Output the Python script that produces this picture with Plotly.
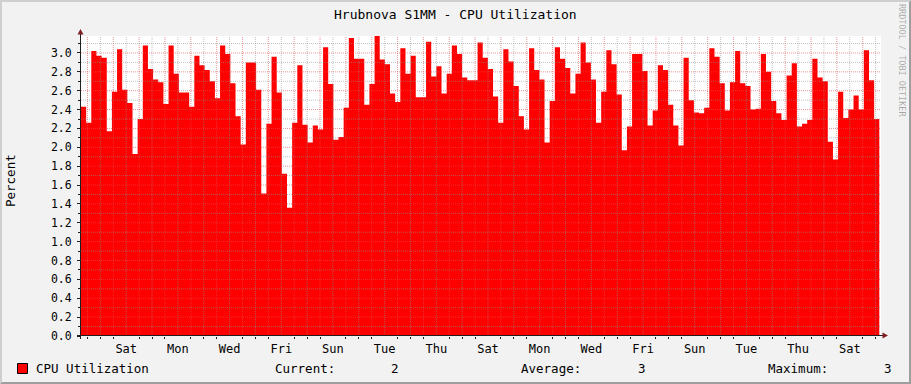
import numpy as np
import pandas as pd
import plotly.graph_objects as go

# ---------------- data ----------------
title_text = "Hrubnova S1MM - CPU Utilization"
y_title = "Percent"
series_name = "CPU Utilization"
watermark = "RRDTOOL / TOBI OETIKER"

start_time = "2024-02-29 18:00"      # Thursday evening
step_minutes = 287                   # one consolidated sample
axis_span_hours = 743
first_label_time = "2024-03-02 12:00"  # Saturday (labels every 2 days at noon)
first_grid_time = "2024-03-01 00:00"

cpu = [
    2.43, 2.26, 3.02, 2.97, 2.95, 2.17, 2.59, 3.04, 2.61, 2.47,
    1.93, 2.30, 3.08, 2.83, 2.72, 2.69, 2.46, 3.08, 2.78, 2.58,
    2.58, 2.43, 2.97, 2.87, 2.82, 2.70, 2.52, 3.08, 2.99, 2.68,
    2.33, 2.03, 2.90, 2.90, 2.61, 1.51, 2.25, 2.96, 2.58, 1.72,
    1.36, 2.26, 2.87, 2.24, 2.05, 2.23, 2.19, 3.06, 2.67, 2.08,
    2.11, 2.42, 3.16, 2.94, 2.94, 2.45, 2.67, 3.18, 2.93, 2.88,
    2.57, 2.48, 3.05, 2.78, 2.97, 2.53, 2.53, 3.12, 2.75, 2.86,
    2.57, 2.78, 3.08, 2.99, 2.74, 2.71, 2.71, 3.11, 2.95, 2.83,
    2.54, 2.26, 3.04, 2.91, 2.65, 2.33, 2.19, 3.05, 2.82, 2.72,
    2.05, 2.49, 3.06, 2.94, 2.84, 2.57, 2.78, 3.11, 2.90, 2.72,
    2.26, 2.59, 3.03, 2.88, 2.56, 1.97, 2.22, 2.99, 2.99, 2.81,
    2.23, 2.39, 2.87, 2.82, 2.45, 2.23, 2.02, 2.95, 2.50, 2.37,
    2.36, 2.42, 3.05, 2.96, 2.68, 2.39, 2.69, 3.02, 2.68, 2.65,
    2.40, 2.41, 2.99, 2.80, 2.49, 2.36, 2.29, 2.76, 2.89, 2.22,
    2.25, 2.29, 2.94, 2.74, 2.70, 2.06, 1.87, 2.59, 2.31, 2.40,
    2.55, 2.40, 3.03, 2.71, 2.30,
]

y_max = 3.18
y_major = 0.2
y_minor = 0.1

# ---------------- styling / layout helpers ----------------
FONT = "DejaVu Sans Mono"
W_IMG, H_IMG = 911, 384
ML, MR, MT, MB = 81, 30, 36, 48
PW, PH = W_IMG - ML - MR, H_IMG - MT - MB

def pxx(px):
    return (px - ML) / PW

def pxy(py):
    return (MT + PH - py) / PH

BG = "#F2F2F2"
GRID = "rgba(143,143,143,0.55)"
MGRID = "rgba(222,79,79,0.6)"
AXIS = "#1F1F1F"
ARROW = "#801F1F"

t0 = pd.Timestamp(start_time)
t_end = t0 + pd.Timedelta(hours=axis_span_hours)
times = pd.date_range(t0, periods=len(cpu) + 1, freq=f"{step_minutes}min")
yvals = cpu + [cpu[-1]]

fig = go.Figure()
fig.add_trace(go.Scatter(
    x=times, y=yvals, mode="lines",
    line=dict(width=0, shape="hv", color="#FF0000"),
    fill="tozeroy", fillcolor="#FF0000",
    name=series_name, showlegend=False, hoverinfo="skip",
))

shapes = []
# vertical grid (every 12 h, red at midnight)
for g in pd.date_range(first_grid_time, t_end, freq="12h"):
    major = g.hour == 0
    shapes.append(dict(type="line", xref="x", yref="paper", x0=g, x1=g, y0=0, y1=1,
                       line=dict(color=MGRID if major else GRID, width=1, dash="1px,1px"),
                       layer="above"))
# horizontal grid
for k in range(1, int(np.floor(y_max / y_minor + 1e-9)) + 1):
    v = round(k * y_minor, 2)
    major = k % 2 == 0
    shapes.append(dict(type="line", xref="paper", yref="y", x0=0, x1=1, y0=v, y1=v,
                       line=dict(color=MGRID if major else GRID, width=1, dash="1px,1px"),
                       layer="above"))

# axis lines (extended past the plot like rrdtool) and arrows
shapes.append(dict(type="line", xref="paper", yref="paper",
                   x0=pxx(77), x1=pxx(884), y0=pxy(335.5), y1=pxy(335.5),
                   line=dict(color=AXIS, width=1), layer="above"))
shapes.append(dict(type="line", xref="paper", yref="paper",
                   x0=pxx(80.5), x1=pxx(80.5), y0=pxy(339), y1=pxy(32),
                   line=dict(color=AXIS, width=1), layer="above"))

def tri(p):
    return "M " + " L ".join(f"{pxx(a):.5f},{pxy(b):.5f}" for a, b in p) + " Z"

shapes.append(dict(type="path", xref="paper", yref="paper",
                   path=tri([(882.5, 332.5), (882.5, 338.5), (888, 335.5)]),
                   fillcolor=ARROW, line=dict(width=0), layer="above"))
shapes.append(dict(type="path", xref="paper", yref="paper",
                   path=tri([(77.5, 34.5), (83.5, 34.5), (80.5, 29)]),
                   fillcolor=ARROW, line=dict(width=0), layer="above"))

# legend swatch
shapes.append(dict(type="rect", xref="paper", yref="paper",
                   x0=pxx(17.5), x1=pxx(27.5), y0=pxy(363.5), y1=pxy(373.5),
                   fillcolor="#FF0000", line=dict(color="#000000", width=1), layer="above"))

# 3d border of the image
shapes.append(dict(type="path", xref="paper", yref="paper",
                   path=tri([(0, 384), (2, 382), (2, 2), (909, 2), (911, 0), (0, 0)]),
                   fillcolor="#CFCFCF", line=dict(width=0), layer="above"))
shapes.append(dict(type="path", xref="paper", yref="paper",
                   path=tri([(2, 382), (909, 382), (909, 2), (911, 0), (911, 384), (0, 384)]),
                   fillcolor="#9E9E9E", line=dict(width=0), layer="above"))

current = f"{cpu[-1]:.0f}"
average = f"{np.mean(cpu):.0f}"
maximum = f"{np.max(cpu):.0f}"

def ann(text, x, y, xa="left", size=12.5, color="#000000", angle=0):
    return dict(text=text, x=pxx(x), y=pxy(y), xref="paper", yref="paper",
                xanchor=xa, yanchor="middle", showarrow=False, textangle=angle,
                font=dict(family=FONT, size=size, color=color))

annotations = [
    ann(title_text, 455, 14, "center", 13),
    ann(y_title, 11, 181, "center", 12.5, angle=-90),
    ann(watermark, 902, 60, "center", 8.5, "rgba(0,0,0,0.32)", angle=90),
    ann(series_name, 34, 368),
    ann("Current:", 273, 368),
    ann(current, 401, 368, "right"),
    ann("Average:", 519, 368),
    ann(average, 648, 368, "right"),
    ann("Maximum:", 766, 368),
    ann(maximum, 894, 368, "right"),
]

fig.update_layout(
    width=W_IMG, height=H_IMG,
    margin=dict(l=ML, r=MR, t=MT, b=MB, pad=0),
    paper_bgcolor=BG, plot_bgcolor="#FFFFFF",
    showlegend=False,
    shapes=shapes, annotations=annotations,
    xaxis=dict(
        type="date", range=[t0, t_end], fixedrange=True,
        showgrid=False, zeroline=False, showline=False,
        tickmode="linear", tick0=first_label_time, dtick=2 * 86400000,
        tickformat="%a", ticks="", ticklabelstandoff=4,
        tickfont=dict(family=FONT, size=12, color="#000000"),
        minor=dict(ticks="outside", ticklen=2, tickcolor=AXIS, tickwidth=1,
                   tick0=first_grid_time, dtick=43200000, showgrid=False),
    ),
    yaxis=dict(
        range=[0, y_max], fixedrange=True,
        showgrid=False, zeroline=False, showline=False,
        tickmode="linear", tick0=0, dtick=y_major, tickformat=".1f",
        ticks="outside", ticklen=3, tickcolor=AXIS, tickwidth=1,
        ticklabelstandoff=3,
        tickfont=dict(family=FONT, size=11.5, color="#000000"),
        minor=dict(ticks="outside", ticklen=2, tickcolor=AXIS, tickwidth=1,
                   dtick=y_minor, showgrid=False),
    ),
)

fig.write_html("out.html", config={"displayModeBar": False})
